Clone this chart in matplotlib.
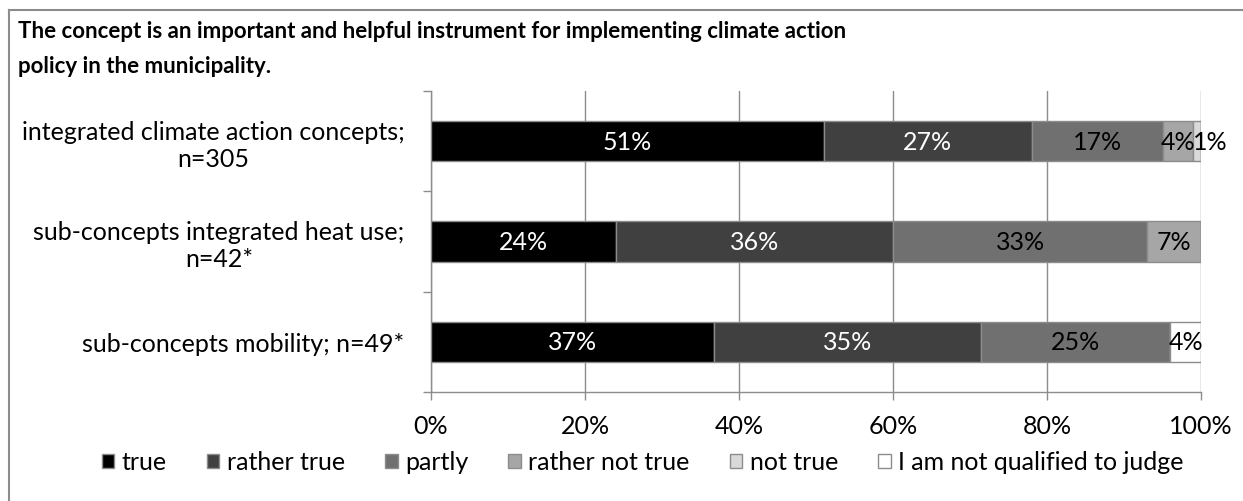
import matplotlib.pyplot as plt
from matplotlib.patches import Patch
from matplotlib.lines import Line2D

plt.rcParams['font.family'] = ['Lato', 'DejaVu Sans']

title = ('The concept is an important and helpful instrument for implementing climate action\n'
         'policy in the municipality.')
groups = ['integrated climate action concepts;\nn=305',
          'sub-concepts integrated heat use;\nn=42*',
          'sub-concepts mobility; n=49*']
answers = ['true', 'rather true', 'partly', 'rather not true', 'not true',
           'I am not qualified to judge']
# share of answers per group, in %
true_vals = [51, 24, 36.7]
rather_true_vals = [27, 36, 34.7]
partly_vals = [17, 33, 24.6]
rather_not_vals = [4, 7, 0]
not_true_vals = [1, 0, 0]
not_qualified_vals = [0, 0, 4.0]
x_ticks = [0, 20, 40, 60, 80, 100]

series = [true_vals, rather_true_vals, partly_vals, rather_not_vals,
          not_true_vals, not_qualified_vals]
colors = ['#000000', '#404040', '#707070', '#a6a6a6', '#d9d9d9', '#ffffff']
text_colors = ['white', 'white', 'black', 'black', 'black', 'black']
edge = '#8c8c8c'
fs = 18

fig = plt.figure(figsize=(12.43, 5.02), dpi=100)
ax = fig.add_axes([431 / 1243, 109 / 502, 770 / 1243, 301 / 502])

y = list(range(len(groups)))
left = [0] * len(groups)
for vals, c, tc in zip(series, colors, text_colors):
    bars = ax.barh(y, vals, left=left, height=0.4, color=c, edgecolor=edge,
                   linewidth=1, zorder=3)
    for b, v in zip(bars, vals):
        if v <= 0:
            continue
        yc = b.get_y() + b.get_height() / 2
        if v < 2:
            # tiny segment: put the label just after its left edge
            ax.text(b.get_x(), yc, f'{v:.0f}%', ha='left', va='center',
                    color=tc, fontsize=fs, zorder=4)
        else:
            ax.text(b.get_x() + b.get_width() / 2, yc, f'{v:.0f}%',
                    ha='center', va='center', color=tc, fontsize=fs, zorder=4)
    left = [l + v for l, v in zip(left, vals)]

ax.set_xlim(0, 100)
ax.set_ylim(2.5, -0.5)
ax.set_xticks(x_ticks)
ax.set_xticklabels([f'{t}%' for t in x_ticks], fontsize=fs)
ax.set_yticks([-0.5, 0.5, 1.5, 2.5])
ax.set_yticklabels([])
ax.set_yticks(y, minor=True)
ax.set_yticklabels(groups, minor=True, fontsize=fs)
for lab in ax.get_yticklabels(minor=True):
    lab.set_multialignment('center')
ax.tick_params(axis='y', which='minor', length=0, pad=19)
ax.tick_params(axis='y', which='major', length=6, color=edge, width=1)
ax.tick_params(axis='x', length=6, color=edge, width=1, pad=10)

ax.grid(axis='x', color=edge, linewidth=1, zorder=0)
for s in ['top', 'right']:
    ax.spines[s].set_visible(False)
for s in ['left', 'bottom']:
    ax.spines[s].set_color(edge)
    ax.spines[s].set_linewidth(1)

fig.text(18 / 1243, 1 - 21 / 502, title, fontsize=16, fontweight='bold',
         ha='left', va='top', linespacing=1.8)

handles = [Patch(facecolor=c, edgecolor=edge, linewidth=1) for c in colors]
fig.legend(handles, answers, loc='center', bbox_to_anchor=(0.517, 1 - 463 / 502),
           ncol=6, frameon=False, fontsize=fs, handlelength=0.5, handleheight=0.5,
           handletextpad=0.3, columnspacing=1.6)

# outer frame
fig.add_artist(Line2D([9 / 1243, 9 / 1243], [0, 1 - 11 / 502], color=edge,
                      linewidth=1.5, transform=fig.transFigure))
fig.add_artist(Line2D([9 / 1243, 1], [1 - 11 / 502, 1 - 11 / 502], color=edge,
                      linewidth=1.5, transform=fig.transFigure))

fig.savefig('out.png', dpi=100)
